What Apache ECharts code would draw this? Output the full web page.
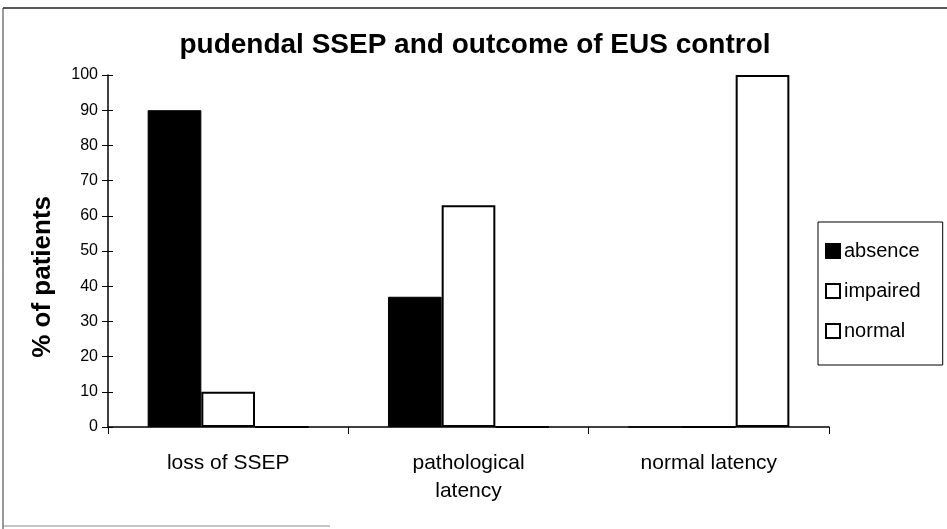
<!DOCTYPE html>
<html lang="en">
<head>
    <meta charset="UTF-8">
    <title>pudendal SSEP</title>
    <script src="https://cdn.jsdelivr.net/npm/echarts@6/dist/echarts.min.js"></script>
    <style>
        body { padding: 0; margin: 0; border: none; background: #fff; }
        #ec { width: 947px; height: 529px; }
    </style>
</head>
<body>
<div id="ec"></div>
<script>
    // data
    const categories = ['loss of SSEP', 'pathological\nlatency', 'normal latency'];
    const absence = [90, 37, 0];
    const impaired = [10, 63, 0];
    const normal = [0, 0, 100];

    const font = 'Liberation Sans, Arial, sans-serif';
    const whiteBar = { color: '#fff', borderColor: '#000', borderWidth: 2 };

    let ec = echarts.init(document.getElementById('ec'));
    let option = {
        animation: false,
        backgroundColor: '#fff',
        title: {
            text: 'pudendal SSEP and outcome of EUS control',
            left: 470, top: 26, textAlign: 'center',
            textStyle: { fontFamily: font, fontSize: 28, fontWeight: 'bold', color: '#000' }
        },
        legend: {
            orient: 'vertical',
            left: 818, top: 222,
            padding: [19, 22, 24, 7],
            itemGap: 19,
            itemWidth: 14, itemHeight: 14,
            itemGap: 20,
            backgroundColor: '#fff',
            borderColor: '#000', borderWidth: 1,
            textStyle: { fontFamily: font, fontSize: 20, color: '#000', padding: [0, 0, 0, -1] },
            data: [
                { name: 'absence', icon: 'rect' },
                { name: 'impaired', icon: 'rect' },
                { name: 'normal', icon: 'rect' }
            ]
        },
        grid: { left: 108, right: 118, top: 75, bottom: 102 },
        xAxis: {
            type: 'category',
            data: categories,
            axisLine: { lineStyle: { color: '#000', width: 1.5 } },
            axisTick: { show: true, length: 7, lineStyle: { color: '#000' } },
            axisLabel: { fontFamily: font, fontSize: 21, color: '#000', margin: 22, lineHeight: 28 }
        },
        yAxis: [{
            type: 'value',
            min: 0, max: 100, interval: 10,
            axisLine: { show: true, lineStyle: { color: '#000', width: 1.5 } },
            axisTick: { show: true, length: 6, lineStyle: { color: '#000' } },
            axisLabel: { fontFamily: font, fontSize: 16, color: '#000', margin: 10 },
            splitLine: { show: false }
        }, {
            type: 'value',
            position: 'left',
            min: 0, max: 100, interval: 10,
            axisLine: { show: false },
            axisTick: { show: true, inside: true, length: 5, lineStyle: { color: '#000' } },
            axisLabel: { show: false },
            splitLine: { show: false }
        }],
        graphic: [{
            type: 'text',
            left: 30, top: 196,
            rotation: Math.PI / 2,
            style: { text: '% of patients', fontFamily: font, fontSize: 26, fontWeight: 'bold', fill: '#000' },
            silent: true
        }, {
            type: 'line',
            shape: { x1: 3, y1: 8, x2: 3, y2: 529 },
            style: { stroke: '#333', lineWidth: 1 },
            silent: true
        }, {
            type: 'line',
            shape: { x1: 3, y1: 8, x2: 947, y2: 8 },
            style: { stroke: '#222', lineWidth: 1.5 },
            silent: true
        }, {
            type: 'line',
            shape: { x1: 3, y1: 526, x2: 330, y2: 526 },
            style: { stroke: '#888', lineWidth: 1 },
            silent: true
        }],
        series: [
            { name: 'absence', type: 'bar', data: absence, barGap: '0%', barCategoryGap: '33%',
              itemStyle: { color: '#000', borderColor: '#000', borderWidth: 1 } },
            { name: 'impaired', type: 'bar', data: impaired, barGap: '0%', barCategoryGap: '33%',
              itemStyle: whiteBar },
            { name: 'normal', type: 'bar', data: normal, barGap: '0%', barCategoryGap: '33%',
              itemStyle: whiteBar }
        ]
    };
    ec.setOption(option);
</script>
</body>
</html>
